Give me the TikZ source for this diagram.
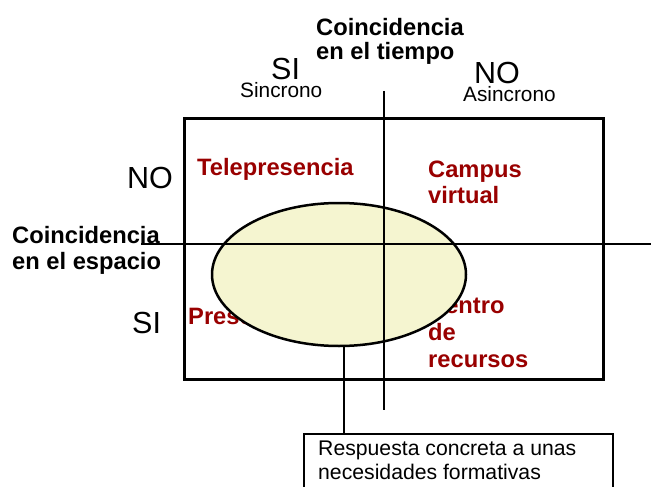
\documentclass[tikz,border=0pt]{standalone}
\usepackage{fontspec}
\setmainfont{Liberation Sans}
\usetikzlibrary{shapes.geometric}
\definecolor{lab}{RGB}{153,0,0}
\definecolor{ellfill}{RGB}{245,245,208}
\begin{document}
\begin{tikzpicture}[x=1pt,y=-1pt,
  boldlab/.style={font=\fontsize{23.7}{26}\selectfont\bfseries, inner sep=0, anchor=base west},
  redlab/.style={boldlab, text=lab},
  biglab/.style={font=\fontsize{30.5}{34}\selectfont, inner sep=0, anchor=base west},
  smalllab/.style={font=\fontsize{20.8}{24}\selectfont, inner sep=0, anchor=base west},
  boxtext/.style={font=\fontsize{21.2}{24}\selectfont, inner sep=0, anchor=base west},
  axisline/.style={line width=2pt},
]
\useasboundingbox (0,0) rectangle (651,487);
% quadrant labels (partly hidden by the ellipse)
\node[redlab] (tele) at (197,175) {Telepresencia};
\node[redlab] (camp1) at (428,177) {Campus};
\node[redlab] (camp2) at (428,203) {virtual};
\node[redlab] (pres) at (188,324) {Presencial};
\node[redlab] (cent1) at (428,313) {Centro};
\node[redlab] (cent2) at (428,340) {de};
\node[redlab] (cent3) at (428,367) {recursos};
% ellipse
\node[ellipse, draw, line width=2.5pt, fill=ellfill, minimum width=254, minimum height=143, inner sep=0] (ell) at (339,274.5) {};
% axes
\coordinate (vtop) at (384,91);
\coordinate (vbot) at (384,410);
\coordinate (hleft) at (141,244);
\coordinate (hright) at (651,244);
\draw[axisline] (vtop) -- (vbot);
\draw[axisline] (hleft) -- (hright);
% quadrant frame
\node[draw, line width=2.5pt, minimum width=419, minimum height=261, anchor=north west, inner sep=0] (quad) at (183,117) {};
% answer box
\node[draw, line width=2pt, minimum width=309, minimum height=70, anchor=north west, inner sep=0] (resp) at (303,433) {};
\coordinate (cc) at (344,345);
\draw[axisline] (cc) -- (cc |- resp.north);
\node[boxtext] (resp1) at (318,455) {Respuesta concreta a unas};
\node[boxtext] (resp2) at (318,479) {necesidades formativas};
% axis titles
\node[boldlab] (tiempo1) at (316,36) {Coincidencia};
\node[boldlab] (tiempo2) at (316,60) {en el tiempo};
\node[boldlab] (esp1) at (12,243) {Coincidencia};
\node[boldlab] (esp2) at (12,269) {en el espacio};
% SI / NO
\node[biglab] (siT) at (271,80) {SI};
\node[smalllab] (sinc) at (240,97) {Sincrono};
\node[biglab] (noT) at (474,84) {NO};
\node[smalllab] (asinc) at (463,101) {Asincrono};
\node[biglab] (noL) at (127,188) {NO};
\node[biglab] (siL) at (132,333) {SI};
\end{tikzpicture}
\end{document}
